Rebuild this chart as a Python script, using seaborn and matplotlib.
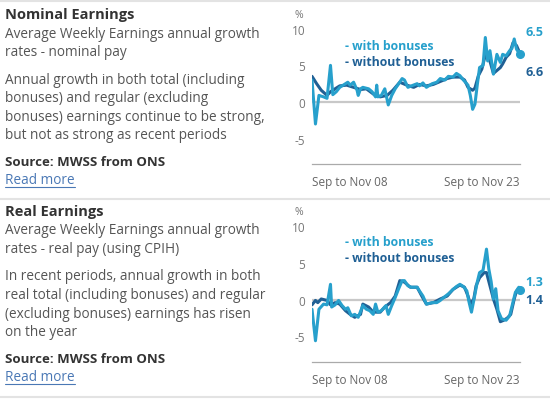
import matplotlib
matplotlib.use("Agg")
import matplotlib.pyplot as plt
import seaborn as sns
import pandas as pd
from matplotlib.lines import Line2D

# months after Sep-Nov 2008 (0 = Sep to Nov 08, 180 = Sep to Nov 23)
nom_total_month = [0, 3, 6, 10, 13, 16, 18, 21, 24, 29, 31, 33, 36, 39, 40, 42, 44, 49, 52, 55,
                   56, 57, 60, 63, 66, 69, 72, 75, 78, 80, 83, 86, 91, 93, 96, 99, 104, 108, 111, 115,
                   118, 122, 125, 128, 131, 135, 137, 139, 141, 143, 145, 148, 150, 152, 154, 157, 160, 163, 165, 168,
                   171, 173, 175, 177, 180]
nom_total = [3.0, -3.0, 0.9, 0.7, 0.5, 5.0, 1.0, 1.4, 2.0, 2.5, 2.7, 2.3, 2.7, 1.6, 0.9, 1.8, 2.0, 1.8, 1.4, 0.7,
             2.3, 0.7, 0.9, 1.8, -0.4, 0.9, 1.8, 2.5, 3.2, 3.0, 2.0, 2.2, 2.5, 2.2, 2.6, 2.0, 2.5, 2.7, 3.2, 3.0,
             3.5, 3.4, 3.9, 3.6, 3.0, 2.3, 0.9, -1.0, -0.3, 2.3, 4.7, 5.0, 8.8, 5.6, 7.0, 3.8, 6.5, 5.4, 6.5, 6.3,
             7.0, 7.3, 8.6, 7.2, 6.5]

nom_regular_month = [0, 4, 8, 13, 16, 20, 24, 30, 36, 42, 47, 53, 59, 65, 70, 76, 82, 88, 93, 99,
                     105, 111, 117, 122, 128, 132, 135, 137, 139, 141, 144, 147, 150, 153, 157, 160, 163, 165, 168, 171,
                     174, 177, 180]
nom_regular = [3.5, 2.5, 1.6, 0.9, 1.4, 1.8, 2.2, 2.3, 2.0, 1.7, 1.8, 1.1, 0.7, 0.9, 1.6, 2.7, 2.3, 2.0, 2.4, 2.2,
               2.4, 2.8, 3.2, 3.4, 3.4, 3.0, 2.0, 1.8, 1.6, 1.9, 3.6, 4.5, 6.4, 6.1, 3.9, 4.3, 4.7, 5.2, 6.1, 6.6,
               8.1, 7.7, 6.6]

real_total_month = [0, 3, 6, 10, 13, 16, 17, 20, 23, 26, 29, 31, 34, 37, 40, 44, 47, 50, 53, 55,
                    57, 60, 64, 66, 69, 72, 75, 78, 80, 83, 86, 91, 93, 96, 99, 104, 108, 111, 114, 118,
                    122, 125, 128, 131, 134, 136, 138, 140, 143, 145, 148, 151, 153, 155, 157, 159, 161, 164, 168, 171,
                    176, 179, 180]
real_total = [-1.3, -5.6, -1.3, -0.6, -0.7, 2.1, -1.0, -0.7, -0.1, -0.8, -1.3, -1.1, -2.2, -2.0, -2.4, -0.8, -1.3, -1.5, -2.0, -0.6,
              -1.7, -1.5, -0.8, -2.0, -0.8, 0.3, 1.5, 2.6, 2.6, 1.9, 1.7, 1.7, 1.2, 0.5, -0.6, -0.4, -0.4, -0.1, 0.3, 0.8,
              1.4, 1.8, 2.1, 1.8, 1.2, -0.4, -1.7, -0.1, 2.4, 3.7, 4.0, 6.9, 4.2, 2.5, 0.1, 1.5, -1.5, -2.6, -2.8, -2.2,
              1.0, 1.7, 1.3]

real_regular_month = [0, 3, 5, 8, 13, 16, 20, 24, 29, 33, 37, 42, 44, 49, 53, 59, 63, 68, 72, 76,
                      80, 85, 91, 95, 99, 105, 111, 117, 122, 128, 132, 135, 137, 140, 142, 145, 149, 151, 154, 157,
                      160, 163, 166, 169, 172, 175, 177, 180]
real_regular = [-0.7, -0.1, -0.4, 0.1, -0.1, -0.7, -0.4, -0.6, -1.5, -2.0, -2.4, -2.0, -0.6, -1.0, -1.7, -1.7, -1.0, -0.4, 0.5, 2.6,
                2.4, 1.7, 1.7, 0.5, -0.6, -0.4, 0.1, 0.5, 1.4, 2.0, 1.7, 0.5, -0.6, 0.1, 1.9, 3.0, 3.7, 3.7, 1.9, 0.1,
                -1.3, -3.0, -2.8, -2.5, -2.0, 0.1, 1.2, 1.4]

x_tick_months = [0, 180]
x_tick_labels = ["Sep to Nov 08", "Sep to Nov 23"]
y_ticks = [-5, 0, 5, 10]

panels = [
    {
        "title": "Nominal Earnings",
        "subtitle": ["Average Weekly Earnings annual growth", "rates - nominal pay"],
        "body": ["Annual growth in both total (including", "bonuses) and regular (excluding",
                 "bonuses) earnings continue to be strong,", "but not as strong as recent periods"],
        "total": (nom_total_month, nom_total),
        "regular": (nom_regular_month, nom_regular),
        "end_labels": ("6.5", "6.6"),
    },
    {
        "title": "Real Earnings",
        "subtitle": ["Average Weekly Earnings annual growth", "rates - real pay (using CPIH)"],
        "body": ["In recent periods, annual growth in both", "real total (including bonuses) and regular",
                 "(excluding bonuses) earnings has risen", "on the year"],
        "total": (real_total_month, real_total),
        "regular": (real_regular_month, real_regular),
        "end_labels": ("1.3", "1.4"),
    },
]

LIGHT = "#27a0cc"
DARK = "#206095"
TEXT = "#555555"

sns.set_style("white")
plt.rcParams["font.family"] = ["Open Sans", "DejaVu Sans"]

W, H = 550, 402
fig = plt.figure(figsize=(5.5, 4.02), dpi=100)


def fx(px):
    return px / W


def fy(py):
    return 1 - py / H


# grey separators
for py in [2, 200, 398]:
    fig.add_artist(Line2D([0, 1], [fy(py), fy(py)], color="#e3e3e3", lw=1.5))

renderer = fig.canvas.get_renderer()
zero_rows = [103, 300.7]
end_rows = [(33, 73), (283, 300)]

for i, p in enumerate(panels):
    off = i * 197
    # text block on the left
    fig.text(fx(5), fy(15 + off), p["title"], fontsize=10.5, fontweight="bold", color="#333333", va="center")
    for j, line in enumerate(p["subtitle"]):
        fig.text(fx(5), fy(34 + off + j * 19), line, fontsize=9.8, color=TEXT, va="center")
    for j, line in enumerate(p["body"]):
        fig.text(fx(5), fy(80 + off + j * 18.6), line, fontsize=9.8, color=TEXT, va="center")
    fig.text(fx(5), fy(163 + off), "Source: MWSS from ONS", fontsize=9.5, fontweight="bold",
             color="#333333", va="center")
    link = fig.text(fx(5), fy(181 + off), "Read more", fontsize=9.8, color="#4a78b5", va="center")
    bb = link.get_window_extent(renderer)
    fig.add_artist(Line2D([fx(bb.x0), fx(bb.x1)], [fy(188 + off), fy(188 + off)], color="#4a78b5", lw=0.8))

    # chart on the right
    zero_px = zero_rows[i]
    ymin, ymax = -8.5, 11.3
    unit = 7.33
    top_px = zero_px - ymax * unit
    bot_px = zero_px - ymin * unit
    ax = fig.add_axes([fx(312), fy(bot_px), fx(520) - fx(312), (bot_px - top_px) / H])

    ax.axhline(0, color="#c8c8c8", lw=1.6, zorder=1)
    tm, tv = p["total"]
    rm, rv = p["regular"]
    sns.lineplot(x=rm, y=rv, ax=ax, color=DARK, linewidth=2.2, zorder=2)
    sns.lineplot(x=tm, y=tv, ax=ax, color=LIGHT, linewidth=2.2, zorder=3)
    ax.plot(tm[-1], tv[-1], "o", color=LIGHT, ms=5.5, clip_on=False, zorder=4)

    ax.set_xlim(0, 180)
    ax.set_ylim(ymin, ymax)
    ax.set_xlabel("")
    ax.set_ylabel("")
    ax.set_yticks(y_ticks)
    ax.set_yticklabels([str(t) for t in y_ticks])
    ax.set_xticks(x_tick_months)
    ax.set_xticklabels(x_tick_labels)
    xl = ax.get_xticklabels()
    xl[0].set_ha("left")
    xl[1].set_ha("right")
    ax.tick_params(axis="y", length=3, color="#bbbbbb", labelsize=8.5, labelcolor="#777777", pad=2)
    ax.tick_params(axis="x", direction="in", length=3, color="#aaaaaa", labelsize=8.5,
                   labelcolor="#666666", pad=8)
    for s in ["top", "right", "left"]:
        ax.spines[s].set_visible(False)
    ax.spines["bottom"].set_color("#aaaaaa")
    ax.spines["bottom"].set_linewidth(0.9)

    fig.text(fx(299), fy(top_px - 5), "%", fontsize=7.5, color="#777777", ha="center", va="center")

    # in-chart legend
    fig.text(fx(345), fy(46 + off), "- with bonuses", fontsize=8.8, fontweight="bold", color=LIGHT, va="center")
    fig.text(fx(345), fy(62 + off), "- without bonuses", fontsize=8.8, fontweight="bold", color=DARK, va="center")

    # end labels
    lt, ld = p["end_labels"]
    yt, yd = end_rows[i]
    fig.text(fx(525), fy(yt), lt, fontsize=9, fontweight="bold", color=LIGHT, va="center")
    fig.text(fx(525), fy(yd), ld, fontsize=9, fontweight="bold", color=DARK, va="center")

fig.savefig("out.png", dpi=100, facecolor="white")
